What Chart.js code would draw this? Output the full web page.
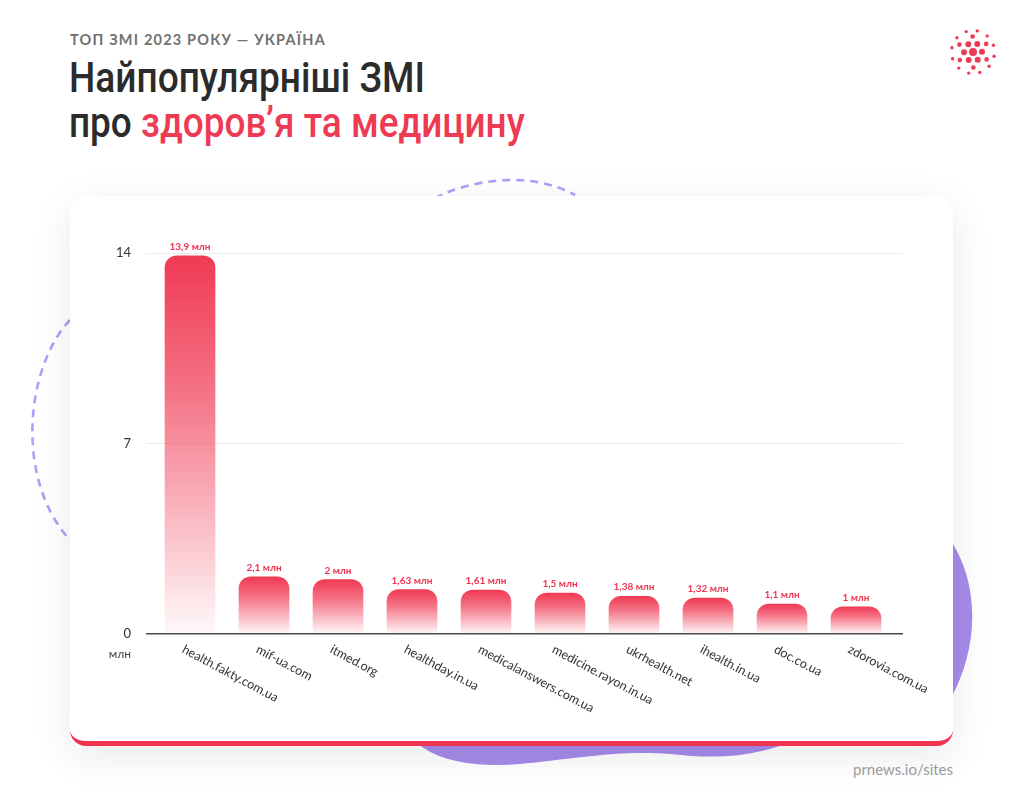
<!DOCTYPE html>
<html lang="uk">
<head>
<meta charset="utf-8">
<script src="https://cdn.jsdelivr.net/npm/chart.js@4.4.1/dist/chart.umd.min.js"></script>
<style>
  html, body { margin: 0; padding: 0; }
  body { width: 1024px; height: 796px; background: #ffffff; position: relative; overflow: hidden; font-family: Lato, sans-serif; }
  #deco { position: absolute; left: 0; top: 0; z-index: 0; }
  .card { position: absolute; left: 70px; top: 196px; width: 883px; height: 545px; background: #fff; border-radius: 16px; border-bottom: 5px solid #ee3450; box-shadow: 0 10px 40px rgba(0,0,0,0.09); z-index: 1; }
  .card canvas { position: absolute; left: 0; top: 0; }
  .sub { position: absolute; left: 70px; top: 31px; font: 700 14.5px Lato, sans-serif; letter-spacing: 1.2px; color: #717171; z-index: 2; white-space: nowrap; }
  .title { position: absolute; left: 69px; font: 500 43px Roboto, sans-serif; color: #2b2b2b; z-index: 2; white-space: nowrap; line-height: 1; transform-origin: 0 0; }
  .title .red { color: #ee3a52; }
  .src { position: absolute; right: 71px; top: 760px; font: 400 15px Lato, sans-serif; color: #9b9b9b; z-index: 2; }
  #logo { position: absolute; left: 946px; top: 26px; z-index: 2; }
</style>
</head>
<body>
<svg id="deco" width="1024" height="796">
  <path d="M 70 320 C 25 368, 15 480, 70 540" fill="none" stroke="#b39cf7" stroke-width="2.6" stroke-dasharray="8 6"/>
  <path d="M 435 198 C 470 180, 530 170, 575 195" fill="none" stroke="#b39cf7" stroke-width="2.6" stroke-dasharray="8 6"/>
  <path d="M 412 738 C 432 760, 470 768, 520 764 C 580 758, 620 750, 670 754 C 720 760, 760 756, 800 738 L 950 700 C 978 650, 982 585, 948 536 L 900 520 L 420 700 Z" fill="#a78bea"/>
</svg>
<div class="sub">ТОП ЗМІ 2023 РОКУ — УКРАЇНА</div>
<div class="title" id="t1" data-w="356" style="top:56px">Найпопулярніші ЗМІ</div>
<div class="title" id="t2" data-w="456" style="top:101px">про <span class="red">здоров’я та медицину</span></div>
<svg id="logo" width="54" height="54"></svg>
<div class="card"><canvas id="c" width="883" height="545"></canvas></div>
<div class="src">prnews.io/sites</div>
<script>
// ---- data ----
const categories = ["health.fakty.com.ua", "mif-ua.com", "itmed.org", "healthday.in.ua", "medicalanswers.com.ua", "medicine.rayon.in.ua", "ukrhealth.net", "ihealth.in.ua", "doc.co.ua", "zdorovia.com.ua"];
const audience = [13.9, 2.1, 2, 1.63, 1.61, 1.5, 1.38, 1.32, 1.1, 1];
const yTicks = [0, 7, 14];
const unitLabel = "млн";

// ---- title width fit ----
document.querySelectorAll('.title').forEach(el => {
  const w = el.getBoundingClientRect().width;
  const target = +el.dataset.w;
  if (w > 0) el.style.transform = `scaleX(${(target / w).toFixed(3)})`;
});

// ---- logo ----
(function(){
  const svg = document.getElementById('logo');
  const cx = 27, cy = 26;
  let s = '';
  const add = (x, y, r) => { s += `<circle cx="${x.toFixed(1)}" cy="${y.toFixed(1)}" r="${r}" fill="#ef3b55"/>`; };
  add(cx, cy, 4);
  for (let k = 0; k < 6; k++) { const a = (k * 60 - 90) * Math.PI / 180; add(cx + 9 * Math.cos(a + 0.5), cy + 9 * Math.sin(a + 0.5), 3); }
  for (let k = 0; k < 6; k++) { const a = (k * 60 - 60) * Math.PI / 180; add(cx + 15.5 * Math.cos(a + 0.5), cy + 15.5 * Math.sin(a + 0.5), 2.3); }
  for (let k = 0; k < 12; k++) { const a = (k * 30) * Math.PI / 180; add(cx + 21.5 * Math.cos(a + 0.2), cy + 21.5 * Math.sin(a + 0.2), 1.7); }
  svg.innerHTML = s;
})();

// ---- plugins ----
const valueLabels = {
  id: 'valueLabels',
  afterDatasetsDraw(chart) {
    const ctx = chart.ctx;
    const meta = chart.getDatasetMeta(0);
    ctx.save();
    ctx.font = '700 10px Lato, sans-serif';
    ctx.fillStyle = '#f0344f';
    ctx.textAlign = 'center';
    ctx.textBaseline = 'alphabetic';
    meta.data.forEach((el, i) => {
      const txt = String(audience[i]).replace('.', ',') + ' ' + unitLabel;
      ctx.fillText(txt, el.x, el.y - 6);
    });
    ctx.restore();
  }
};
const xLabels = {
  id: 'xLabels',
  afterDraw(chart) {
    const ctx = chart.ctx;
    const xs = chart.scales.x, ys = chart.scales.y;
    const base = ys.getPixelForValue(0);
    ctx.save();
    ctx.font = '400 12.5px Lato, sans-serif';
    ctx.fillStyle = '#333';
    ctx.textAlign = 'left';
    ctx.textBaseline = 'top';
    categories.forEach((lab, i) => {
      const x = xs.getPixelForValue(i);
      ctx.save();
      ctx.translate(x - 4, base + 9);
      ctx.rotate(28 * Math.PI / 180);
      ctx.fillText(lab, 0, 0);
      ctx.restore();
    });
    ctx.font = '400 12px Lato, sans-serif';
    ctx.fillStyle = '#444';
    ctx.textAlign = 'right';
    ctx.textBaseline = 'middle';
    ctx.fillText(unitLabel, ys.right - 7 - 15, base + 20);
    ctx.restore();
  }
};

const gridColor = (c) => (c.tick && c.tick.value === 0) ? '#4a4a4a' : '#ebebeb';
const gridWidth = (c) => (c.tick && c.tick.value === 0) ? 1.5 : 1;

new Chart(document.getElementById('c'), {
  type: 'bar',
  data: {
    labels: categories,
    datasets: [{
      data: audience,
      barThickness: 50,
      borderRadius: 12,
      borderSkipped: 'start',
      backgroundColor: (c) => {
        const ch = c.chart;
        const y = ch.scales && ch.scales.y;
        if (!y || !ch.chartArea || c.raw === undefined) return '#f03a54';
        const top = y.getPixelForValue(c.raw);
        const bot = y.getPixelForValue(0);
        const g = ch.ctx.createLinearGradient(0, top, 0, bot);
        g.addColorStop(0, 'rgba(240,58,84,1)');
        g.addColorStop(0.35, 'rgba(240,58,84,0.72)');
        g.addColorStop(1, 'rgba(240,58,84,0.03)');
        return g;
      }
    }]
  },
  options: {
    responsive: false,
    animation: false,
    events: [],
    layout: { padding: { top: 57, right: 50, bottom: 107, left: 0 } },
    plugins: { legend: { display: false }, tooltip: { enabled: false } },
    scales: {
      x: { display: false },
      y: {
        position: 'left',
        min: 0, max: 14,
        afterFit(s) { s.width = 83; },
        afterBuildTicks(s) { s.ticks = yTicks.map(v => ({ value: v })); },
        ticks: { padding: 15, color: '#333', font: { family: 'Lato', size: 13 } },
        grid: { color: gridColor, lineWidth: gridWidth, tickColor: gridColor, tickWidth: gridWidth, tickLength: 7, drawTicks: true },
        border: { display: false }
      },
      y2: {
        position: 'right',
        min: 0, max: 14,
        afterFit(s) { s.width = 10; },
        afterBuildTicks(s) { s.ticks = yTicks.map(v => ({ value: v })); },
        ticks: { display: false },
        grid: { drawOnChartArea: false, color: gridColor, lineWidth: gridWidth, tickColor: gridColor, tickWidth: gridWidth, tickLength: 10, drawTicks: true },
        border: { display: false }
      }
    }
  },
  plugins: [valueLabels, xLabels]
});
</script>
</body>
</html>
